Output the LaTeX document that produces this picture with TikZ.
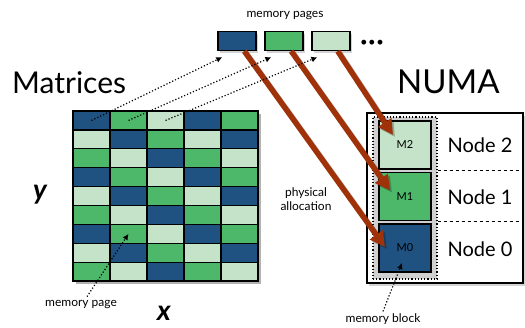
\documentclass[tikz,border=0pt]{standalone}
\usepackage{fontspec}
\setmainfont{Lato}
\usetikzlibrary{arrows.meta,calc,shadows}
\definecolor{cdark}{RGB}{31,82,128}
\definecolor{cgreen}{RGB}{77,184,106}
\definecolor{clight}{RGB}{197,227,200}
\definecolor{cred}{RGB}{160,50,10}
\definecolor{cgray}{RGB}{208,208,208}
\tikzset{
  cell/.style={draw=black,line width=1.3pt,minimum width=37pt,minimum height=18.9pt,inner sep=0pt,outer sep=0pt},
  page/.style={draw=black,line width=1.3pt,minimum width=38pt,minimum height=19pt,inner sep=0pt,
    drop shadow={shadow xshift=2pt,shadow yshift=-2pt,opacity=0.35}},
  mbox/.style={draw=black,line width=1.3pt,minimum width=52pt,minimum height=48pt,inner sep=0pt,font=\fontsize{11}{13}\selectfont},
  dotarrow/.style={dotted,line width=1.2pt,-{Latex[length=6pt,width=6pt]}},
  redarrow/.style={draw=cred,line width=5.5pt,-{Triangle[length=15pt,width=15pt]}},
  redshadow/.style={draw=black,opacity=0.25,line width=5.5pt,-{Triangle[length=15pt,width=15pt]}},
  small/.style={font=\fontsize{12}{14}\selectfont,inner sep=0pt},
  nodelbl/.style={font=\fontsize{20}{24}\selectfont,inner sep=0pt},
  big/.style={font=\fontsize{30}{36}\selectfont,inner sep=0pt},
  bignuma/.style={font=\fontsize{33}{38}\selectfont,inner sep=0pt},
  axis/.style={font=\fontsize{28}{32}\selectfont\bfseries\itshape,inner sep=0pt}
}
\begin{document}
\begin{tikzpicture}[x=1pt,y=-1pt]
\useasboundingbox (0,0) rectangle (525,327);
% matrix shadow
\fill[black,opacity=0.3] (76,114) rectangle (261,284);
% grid cells
\foreach \r in {0,...,8}{
  \foreach \c in {0,...,4}{
    \pgfmathtruncatemacro{\k}{mod(\c-\r+9,3)}
    \ifcase\k \def\col{cdark}\or \def\col{cgreen}\or \def\col{clight}\fi
    \node[cell,fill=\col] (c-\r-\c) at ({73+18.5+37*\c},{111+9.45+18.9*\r}) {};
  }
}
% texts
\node[big,anchor=base west] (tmat) at (12,93) {Matrices};
\node[bignuma,anchor=base west] (tnuma) at (397,93) {NUMA};
\node[axis] (ty) at (40,195) {y};
\node[axis] (tx) at (164,313) {x};
\node[small] (tpages) at (285,15) {memory pages};
\node[small,align=center] (tphys) at (306,199) {physical\\allocation};
\node[small] (tpage) at (81,304) {memory page};
\node[small] (tblock) at (383,319) {memory block};
% memory pages
\node[page,fill=cdark] (p1) at (237,41) {};
\node[page,fill=cgreen] (p2) at (284,41) {};
\node[page,fill=clight] (p3) at (331,41) {};
\node[font=\fontsize{13}{16}\selectfont,inner sep=0pt] (dots) at (372,43) {•\kern0.5pt•\kern0.5pt•};
% NUMA box
\node[draw=black,line width=1.2pt,fill=white,minimum width=156pt,minimum height=170pt,inner sep=0pt,
  drop shadow={shadow xshift=2pt,shadow yshift=-3pt,opacity=0.35}] (numa) at (445,198) {};
\node[draw=black,dotted,line width=1.2pt,fill=cgray,minimum width=64pt,minimum height=162pt,inner sep=0pt] (grp) at (405,198) {};
\node[mbox,fill=clight] (m2) at (405,145) {M2};
\node[mbox,fill=cgreen] (m1) at (405,196.5) {M1};
\node[mbox,fill=cdark] (m0) at (405,248) {M0};
\draw[dashed,line width=0.7pt] (grp.east |- 0,170) -- (numa.east |- 0,170);
\draw[dashed,line width=0.7pt] (grp.east |- 0,221.7) -- (numa.east |- 0,221.7);
\node[nodelbl] (n2) at (480,145) {Node 2};
\node[nodelbl] (n1) at (480,197) {Node 1};
\node[nodelbl] (n0) at (480,249) {Node 0};
% red arrows
\coordinate (t0) at ($(m0.center)+(-20,-1)$);
\coordinate (t1) at ($(m1.center)+(-15,-6)$);
\coordinate (t2) at ($(m2.center)+(-12,-10)$);
\foreach \p/\t in {p1/t0,p2/t1,p3/t2}{
  \draw[redshadow,transform canvas={shift={(2pt,-2pt)}}] (\p) -- (\t);
}
\draw[redarrow] (p1) -- (t0);
\draw[redarrow] (p2) -- (t1);
\draw[redarrow] (p3) -- (t2);
% dotted arrows
\draw[dotarrow] (c-0-0.center) -- ($(p1.south west)+(5,6)$);
\draw[dotarrow] (c-0-1.center) -- ($(p2.south west)+(7,6)$);
\draw[dotarrow] (c-0-2.center) -- ($(p3.south west)+(6,6)$);
\draw[dotarrow] ($(tpage.north)+(6,-3)$) -- (c-6-1.center);
\draw[dotarrow] ($(tblock.north)+(0,-2)$) -- ($(m0.center)+(-3,15)$);
\end{tikzpicture}
\end{document}
